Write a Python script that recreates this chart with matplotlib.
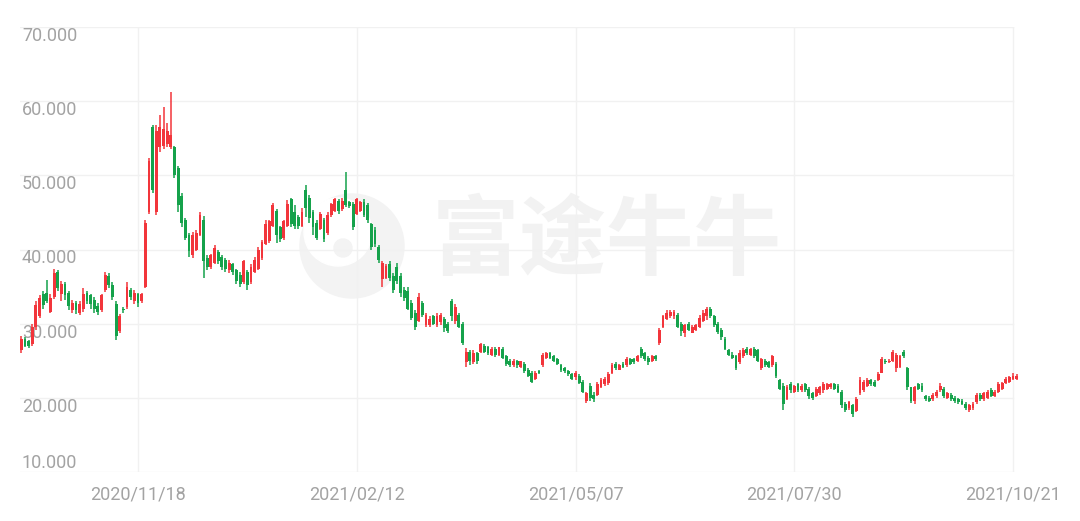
import numpy as np
import matplotlib
matplotlib.use("Agg")
import matplotlib.pyplot as plt
from matplotlib.patches import Ellipse

# daily candles, index 0 .. 273
opens = [26.5, 28.0, 27.6, 27.2, 29.5, 31.0, 34.0, 34.2, 31.6, 33.6,
         37.0, 34.0, 35.3, 34.2, 31.8, 32.8, 31.5, 32.0, 34.2, 33.8,
         33.2, 32.4, 31.8, 34.5, 36.4, 35.2, 32.6, 29.0, 32.0, 32.2,
         34.6, 33.0, 34.0, 33.0, 35.0, 45.0, 56.5, 45.0, 53.8, 54.0,
         54.2, 53.8, 53.8, 51.0, 47.2, 44.0, 42.0, 39.2, 40.0, 42.0,
         44.0, 38.8, 37.6, 38.2, 39.6, 39.0, 38.6, 37.2, 38.0, 37.2,
         36.6, 35.6, 37.0, 35.6, 37.0, 37.4, 38.8, 40.8, 41.2, 43.2,
         45.2, 43.0, 41.6, 43.2, 46.8, 45.0, 44.4, 43.2, 48.0, 47.0,
         45.0, 43.6, 42.8, 44.0, 42.2, 44.6, 45.2, 46.6, 45.4, 48.0,
         46.4, 46.2, 44.8, 45.2, 46.4, 46.0, 43.4, 42.6, 40.4, 36.0,
         36.2, 38.0, 36.4, 37.6, 36.4, 34.6, 34.4, 32.8, 31.4, 30.4,
         32.8, 29.8, 29.8, 31.0, 29.8, 30.2, 30.6, 30.0, 33.0, 30.4,
         31.2, 30.0, 24.8, 26.2, 24.8, 26.0, 26.2, 27.0, 26.8, 25.8,
         26.6, 25.8, 26.6, 25.6, 25.0, 24.4, 25.0, 24.2, 24.6, 23.8,
         23.4, 22.6, 23.6, 24.4, 25.4, 26.0, 25.6, 25.2, 24.4, 24.0,
         23.6, 23.2, 22.8, 23.0, 22.2, 19.6, 21.6, 20.4, 20.4, 21.4,
         21.8, 22.0, 23.4, 24.6, 23.8, 24.6, 24.4, 25.2, 25.2, 25.0,
         26.6, 26.0, 25.4, 25.0, 25.6, 27.4, 29.6, 30.6, 31.0, 31.0,
         31.2, 30.0, 28.8, 30.0, 28.8, 29.2, 29.6, 30.4, 31.0, 32.0,
         31.0, 30.0, 29.2, 28.0, 26.4, 25.8, 25.6, 24.8, 25.6, 26.6,
         25.8, 26.6, 26.4, 24.0, 25.0, 24.8, 24.4, 24.6, 22.4, 21.6,
         19.8, 21.8, 20.8, 21.8, 21.0, 21.8, 21.2, 20.6, 20.2, 20.6,
         21.0, 21.2, 21.4, 21.8, 21.6, 20.8, 19.2, 18.6, 19.0, 18.2,
         20.6, 21.0, 21.6, 22.4, 22.2, 22.4, 23.4, 25.0, 24.8, 25.0,
         24.0, 24.2, 26.2, 24.0, 21.4, 19.6, 21.8, 21.6, 20.2, 20.0,
         19.8, 20.2, 21.0, 21.2, 20.0, 20.4, 20.0, 19.8, 19.6, 19.2,
         18.4, 18.6, 19.4, 20.4, 19.8, 20.0, 21.0, 20.2, 20.8, 21.2,
         22.0, 22.2, 22.6, 22.6]
closes = [28.0, 27.0, 27.0, 29.6, 32.5, 33.4, 32.5, 33.0, 33.5, 36.8,
          34.8, 35.4, 33.8, 32.4, 32.8, 31.8, 32.6, 34.0, 33.0, 32.6,
          32.0, 31.6, 33.8, 36.6, 35.2, 33.6, 28.4, 31.0, 31.8, 35.0,
          33.6, 34.2, 32.8, 34.0, 43.6, 52.0, 48.0, 56.0, 56.5, 56.2,
          56.0, 55.5, 50.0, 46.0, 43.6, 41.5, 39.8, 42.0, 42.2, 44.6,
          38.5, 37.6, 39.2, 40.2, 38.4, 37.6, 37.4, 38.2, 37.0, 35.8,
          35.4, 38.4, 35.2, 37.6, 38.6, 40.0, 41.0, 43.4, 43.8, 46.0,
          42.0, 41.4, 43.8, 46.2, 43.4, 43.2, 43.2, 45.0, 45.6, 44.2,
          43.0, 41.6, 44.8, 41.4, 44.6, 46.2, 46.8, 45.2, 46.6, 46.0,
          45.8, 43.0, 46.8, 46.4, 44.6, 44.0, 40.4, 40.8, 38.6, 38.2,
          37.8, 36.2, 34.6, 35.8, 34.2, 33.4, 32.0, 30.8, 29.6, 33.6,
          31.2, 31.2, 30.6, 30.0, 31.0, 31.2, 29.4, 29.0, 31.0, 32.2,
          29.6, 27.4, 26.2, 25.0, 26.0, 25.0, 27.2, 26.2, 26.0, 26.6,
          25.8, 26.8, 25.4, 24.6, 24.4, 25.0, 24.4, 24.9, 23.6, 23.0,
          22.2, 23.4, 23.4, 25.8, 26.0, 25.4, 25.0, 24.6, 23.8, 23.6,
          23.2, 22.6, 23.4, 22.0, 20.8, 20.6, 20.0, 19.8, 21.8, 22.4,
          22.6, 23.2, 24.4, 24.0, 24.4, 24.2, 25.2, 24.6, 24.8, 25.6,
          25.6, 25.2, 24.8, 25.6, 25.2, 29.2, 31.0, 31.4, 31.6, 31.6,
          29.6, 29.0, 29.8, 29.2, 29.6, 29.8, 30.8, 31.4, 32.0, 31.0,
          29.8, 28.9, 28.2, 26.6, 25.8, 25.4, 24.0, 26.0, 26.4, 26.0,
          26.6, 25.6, 25.0, 25.2, 24.4, 24.2, 25.6, 23.0, 21.2, 19.2,
          21.4, 21.0, 21.6, 21.0, 21.6, 21.0, 20.2, 20.0, 21.2, 21.4,
          21.8, 21.8, 21.9, 21.2, 20.8, 19.0, 18.4, 19.4, 17.8, 19.8,
          22.4, 22.2, 22.4, 21.8, 21.6, 23.2, 25.2, 24.8, 25.0, 26.2,
          25.8, 25.6, 25.6, 21.4, 19.6, 21.4, 21.2, 21.0, 19.8, 19.6,
          20.4, 20.8, 21.6, 20.2, 20.6, 19.8, 19.6, 19.4, 19.2, 18.6,
          19.0, 19.2, 20.4, 19.8, 20.6, 20.8, 20.2, 20.8, 21.8, 22.0,
          22.6, 22.8, 23.0, 22.9]
highs = [28.3, 28.2, 27.8, 29.9, 33.0, 33.8, 34.4, 35.9, 34.0, 37.4,
         37.3, 35.7, 35.6, 34.4, 33.2, 33.0, 33.0, 34.8, 34.4, 34.0,
         33.6, 32.8, 34.0, 37.0, 36.8, 35.6, 33.0, 31.3, 32.2, 35.6,
         34.8, 34.5, 34.2, 34.2, 44.0, 52.3, 56.8, 56.8, 58.2, 59.2,
         57.0, 61.2, 54.0, 51.2, 47.6, 44.2, 42.2, 42.4, 42.6, 45.0,
         44.5, 39.2, 39.4, 40.6, 40.0, 39.2, 38.8, 38.6, 38.2, 37.4,
         37.0, 38.6, 37.2, 38.0, 39.0, 40.3, 41.3, 44.0, 44.0, 46.3,
         45.4, 43.2, 44.0, 46.7, 47.0, 46.0, 44.6, 45.6, 48.7, 47.4,
         45.3, 44.0, 45.0, 44.2, 45.0, 46.3, 47.0, 46.8, 47.0, 50.5,
         46.6, 46.4, 47.0, 46.6, 46.8, 46.3, 43.6, 43.0, 40.6, 38.4,
         38.0, 38.4, 36.8, 38.2, 36.8, 35.0, 35.0, 33.2, 31.8, 34.1,
         33.0, 31.4, 31.0, 31.2, 31.4, 31.4, 30.9, 30.2, 33.3, 32.6,
         31.4, 30.2, 26.7, 26.4, 26.4, 26.2, 27.4, 27.2, 27.0, 26.9,
         26.8, 26.9, 26.8, 25.8, 25.2, 25.2, 25.1, 25.0, 24.8, 24.0,
         23.6, 23.6, 23.8, 26.0, 26.2, 26.2, 25.8, 25.4, 24.6, 24.2,
         23.8, 23.4, 23.6, 23.2, 22.4, 20.8, 22.0, 20.8, 22.1, 22.7,
         22.8, 23.5, 24.7, 24.8, 24.6, 24.8, 25.5, 25.4, 25.4, 25.8,
         26.9, 26.2, 25.6, 25.8, 25.8, 29.4, 31.2, 31.8, 31.8, 31.8,
         31.4, 30.2, 30.0, 30.2, 29.8, 30.0, 31.2, 31.8, 32.2, 32.2,
         31.2, 30.2, 29.4, 28.2, 26.6, 26.2, 25.8, 26.4, 26.7, 26.8,
         26.7, 26.8, 26.6, 25.4, 25.2, 25.0, 25.8, 24.8, 22.6, 22.0,
         21.7, 22.1, 21.7, 22.0, 21.8, 22.0, 21.4, 20.8, 21.4, 21.6,
         22.1, 22.0, 22.0, 22.0, 21.8, 21.0, 19.4, 19.6, 19.2, 20.1,
         22.8, 22.4, 22.7, 22.6, 22.4, 23.5, 25.5, 25.2, 25.2, 26.4,
         26.0, 25.8, 26.4, 24.2, 21.5, 21.6, 22.0, 22.0, 20.4, 20.2,
         20.6, 21.0, 22.0, 21.4, 20.8, 20.6, 20.2, 20.0, 19.8, 19.4,
         19.2, 19.4, 20.6, 20.6, 20.8, 21.0, 21.3, 21.0, 22.1, 22.2,
         22.8, 23.0, 23.3, 23.2]
lows = [26.0, 26.8, 26.7, 27.0, 29.2, 30.8, 32.0, 32.8, 31.5, 33.3,
        34.4, 33.0, 33.2, 31.8, 31.4, 31.3, 31.2, 31.6, 32.6, 32.0,
        31.5, 31.2, 31.6, 34.3, 34.8, 33.2, 27.8, 28.8, 31.5, 32.0,
        33.2, 32.6, 32.2, 32.8, 34.8, 44.8, 47.6, 44.6, 53.2, 53.5,
        53.8, 53.5, 49.6, 45.0, 43.0, 41.3, 39.0, 38.9, 39.8, 41.8,
        36.2, 37.2, 37.4, 38.0, 38.0, 37.2, 37.0, 36.8, 36.6, 35.4,
        35.0, 35.4, 34.5, 35.4, 36.8, 37.2, 38.6, 40.6, 40.9, 43.0,
        40.9, 41.0, 41.3, 43.0, 43.0, 42.8, 42.8, 43.0, 44.4, 43.6,
        42.0, 41.3, 42.6, 41.0, 42.0, 44.4, 45.0, 44.8, 45.2, 45.7,
        45.6, 42.6, 44.6, 45.0, 44.4, 43.6, 39.9, 40.4, 38.2, 35.0,
        36.0, 35.8, 34.2, 35.4, 33.6, 33.0, 31.8, 30.5, 29.1, 30.2,
        30.9, 29.5, 29.6, 29.8, 29.6, 29.8, 28.9, 28.7, 30.4, 30.0,
        29.4, 27.1, 24.2, 24.4, 24.6, 24.6, 26.0, 26.0, 25.8, 25.6,
        25.5, 25.6, 25.2, 24.3, 24.2, 24.2, 24.0, 24.0, 23.3, 22.8,
        22.0, 22.4, 23.2, 24.2, 25.2, 25.2, 24.8, 24.4, 23.5, 23.4,
        23.0, 22.4, 22.4, 21.8, 20.6, 19.3, 19.6, 19.4, 20.2, 21.3,
        21.6, 21.7, 23.2, 23.8, 23.7, 24.0, 24.2, 24.4, 24.6, 24.8,
        25.4, 24.9, 24.4, 24.8, 25.0, 27.1, 29.4, 30.5, 30.8, 30.6,
        29.4, 28.4, 28.2, 29.0, 28.7, 29.0, 29.4, 30.2, 30.5, 30.8,
        29.6, 28.6, 27.8, 26.4, 25.6, 25.2, 23.8, 24.6, 25.4, 25.8,
        25.6, 25.4, 24.8, 23.8, 24.2, 24.0, 24.2, 22.7, 21.0, 18.4,
        19.7, 20.6, 20.6, 20.8, 20.8, 20.8, 19.8, 19.7, 20.1, 20.4,
        20.6, 21.0, 21.2, 21.0, 20.6, 18.6, 18.1, 18.4, 17.4, 18.1,
        20.4, 20.8, 21.5, 21.6, 21.4, 22.3, 23.3, 24.6, 24.7, 24.8,
        23.5, 24.0, 25.4, 21.1, 19.3, 19.2, 21.0, 20.8, 19.6, 19.4,
        19.6, 20.0, 20.8, 20.0, 19.8, 19.6, 19.3, 19.2, 19.0, 18.4,
        18.1, 18.4, 19.2, 19.6, 19.6, 19.8, 20.1, 20.1, 20.6, 21.0,
        21.8, 22.0, 22.4, 22.4]

y_ticks = [10, 20, 30, 40, 50, 60, 70]
x_tick_pos = [32, 92, 152, 212, 272]
x_tick_labels = ["2020/11/18", "2021/02/12", "2021/05/07", "2021/07/30", "2021/10/21"]

RED = "#f2353b"
GREEN = "#15a24b"
GRAY = "#a3a3a3"
W, H = 1080, 521

o = np.array(opens)
c = np.array(closes)
h = np.array(highs)
l = np.array(lows)
idx = np.arange(len(o))
up = c >= o
cols = np.where(up, RED, GREEN)

fig = plt.figure(figsize=(10.8, 5.21), dpi=100)
ax = fig.add_axes([20/W, 49/H, 998/W, 445/H])
ax.set_zorder(2)
ax.patch.set_alpha(0)
ax.set_xlim(-0.36, 273.35)
ax.set_ylim(10, 70)
for s in ax.spines.values():
    s.set_visible(False)
ax.set_xticks([])
ax.set_yticks([])

# grid
for v in y_ticks:
    ax.plot([-0.36, 272], [v, v], color="#f1f1f1", lw=1, zorder=0)
for p in x_tick_pos:
    ax.plot([p, p], [10, 70], color="#f1f1f1", lw=1, zorder=0)

# watermark logo (circle, in pixel units), behind the axes
def disc(cx, cy, r, col, z):
    fig.patches.append(Ellipse((cx/W, 1 - cy/H), 2*r/W, 2*r/H, transform=fig.transFigure,
                               color=col, zorder=z))

disc(352, 246, 52, "#f3f3f3", 0.5)
disc(338, 232, 34, "white", 0.6)
disc(343, 248, 9, "#f3f3f3", 0.7)
fig.text(607/W, 1 - 243/H, "富途牛牛", fontsize=63, color="#f2f2f2", ha="center", va="center",
         family=["Noto Sans CJK SC", "DejaVu Sans"], fontweight="bold", zorder=0.8)

# candles
ax.vlines(idx, l, h, colors=cols, lw=1.1, zorder=2)
bottoms = np.minimum(o, c)
heights = np.maximum(np.abs(c - o), 0.15)
ax.bar(idx, heights, bottom=bottoms, width=0.78, color=cols, zorder=3, linewidth=0)

# labels
for v in y_ticks:
    off = 1.2 if v == 10 else -1.2
    ax.text(0.002, v + off, "%.3f" % v, transform=ax.get_yaxis_transform(),
            ha="left", va="center", fontsize=13, color=GRAY, family="Roboto", zorder=1)
for p, t in zip(x_tick_pos, x_tick_labels):
    ax.annotate(t, xy=(p, 0), xycoords=("data", "axes fraction"), xytext=(0, -16.5),
                textcoords="offset points", ha="center", va="center", fontsize=13,
                color=GRAY, family="Roboto", annotation_clip=False)

fig.savefig("out.png", dpi=100)
